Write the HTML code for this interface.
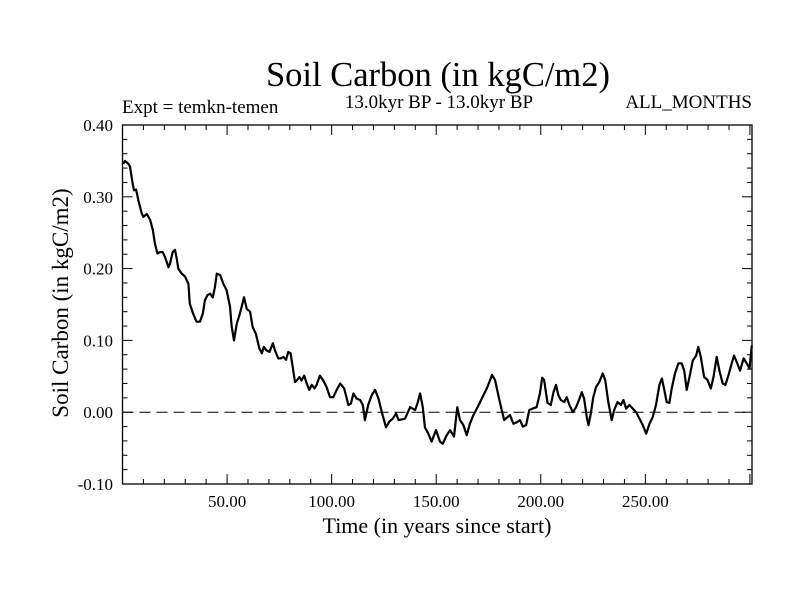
<!DOCTYPE html>
<html><head><meta charset="utf-8"><style>
html,body{margin:0;padding:0;background:#fff;}
svg{display:block;font-family:"Liberation Serif",serif;}
</style></head><body>
<svg id="chart" width="800" height="600" viewBox="0 0 800 600">
<rect width="800" height="600" fill="#fff"/>
<text x="438" y="86" font-size="34.5" text-anchor="middle">Soil Carbon (in kgC/m2)</text>
<text x="439" y="108" font-size="19" text-anchor="middle">13.0kyr BP - 13.0kyr BP</text>
<text x="122" y="113" font-size="19">Expt = temkn-temen</text>
<text x="752" y="108" font-size="19" text-anchor="end">ALL_MONTHS</text>
<text x="437" y="533" font-size="22" text-anchor="middle">Time (in years since start)</text>
<text x="0" y="0" font-size="23" text-anchor="middle" transform="translate(68,303) rotate(-90)">Soil Carbon (in kgC/m2)</text>
<g id="axes"></g>
<g id="plot"></g>
</svg>
<script>
const times = [0.4,1.2,2.8,3.6,4.9,5.5,6.5,7.6,9.2,10.0,11.6,13.2,14.5,15.5,16.7,17.9,19.2,20.3,22.0,22.7,24.0,25.1,25.9,26.7,28.3,29.9,31.5,32.2,33.8,35.4,37.0,38.4,39.4,40.6,41.9,43.2,44.2,45.1,46.7,48.2,49.8,51.4,52.2,53.3,54.6,55.9,57.0,58.1,59.4,61.0,62.2,63.8,65.4,66.6,67.6,68.9,70.3,71.9,72.9,74.5,75.7,77.0,78.2,79.3,80.4,81.4,82.5,83.3,84.6,85.6,86.9,88.1,89.3,90.5,91.8,92.8,94.4,96.0,97.6,99.2,100.8,102.4,104.1,106.0,108.0,109.2,110.4,112.0,113.6,114.9,115.9,117.5,119.2,120.8,122.4,124.0,126.0,127.6,129.2,130.8,132.0,133.5,135.1,137.5,139.9,141.0,142.3,143.6,144.6,146.2,147.8,149.9,151.8,153.1,154.7,156.6,158.5,160.1,161.4,163.0,164.6,166.1,167.8,169.4,171.0,172.6,174.2,175.8,176.7,178.1,179.7,181.3,182.5,184.0,185.3,186.9,188.5,190.1,191.4,193.0,194.5,196.1,198.0,199.6,200.7,201.6,203.2,204.8,206.1,207.3,208.4,209.6,211.2,212.4,213.7,215.3,216.9,218.5,219.6,220.7,222.0,222.8,223.9,225.1,226.4,228.0,229.6,230.8,232.3,233.9,235.1,236.7,238.3,239.5,240.8,242.4,244.0,245.6,247.2,248.8,250.4,252.0,253.5,255.1,256.7,257.9,258.9,260.2,261.5,262.6,264.2,265.8,267.4,268.6,269.8,271.1,272.7,274.3,275.3,276.5,278.1,279.7,281.3,282.6,284.1,285.4,287.0,288.3,289.8,290.8,292.4,293.7,295.3,297.0,298.5,299.8,300.9];
const carbon = [0.346,0.350,0.346,0.342,0.318,0.309,0.310,0.295,0.277,0.272,0.276,0.268,0.254,0.235,0.221,0.223,0.223,0.216,0.202,0.207,0.223,0.226,0.214,0.200,0.193,0.189,0.179,0.151,0.137,0.126,0.126,0.137,0.156,0.163,0.165,0.160,0.174,0.193,0.191,0.179,0.170,0.147,0.119,0.100,0.123,0.135,0.147,0.160,0.144,0.140,0.119,0.109,0.089,0.082,0.091,0.086,0.084,0.096,0.086,0.075,0.075,0.077,0.073,0.084,0.082,0.063,0.042,0.044,0.049,0.044,0.051,0.040,0.031,0.038,0.033,0.038,0.051,0.044,0.035,0.021,0.021,0.031,0.040,0.033,0.010,0.012,0.026,0.019,0.017,0.010,-0.011,0.010,0.024,0.031,0.019,0.000,-0.021,-0.013,-0.009,-0.002,-0.011,-0.010,-0.009,0.007,0.003,0.012,0.026,0.007,-0.021,-0.030,-0.041,-0.025,-0.041,-0.044,-0.034,-0.025,-0.034,0.007,-0.011,-0.018,-0.032,-0.016,-0.004,0.005,0.014,0.024,0.033,0.045,0.052,0.045,0.024,0.003,-0.011,-0.007,-0.004,-0.016,-0.014,-0.011,-0.020,-0.018,0.003,0.005,0.007,0.026,0.048,0.045,0.013,0.010,0.028,0.038,0.024,0.017,0.014,0.021,0.010,0.000,0.007,0.019,0.028,0.019,-0.007,-0.018,-0.002,0.021,0.035,0.042,0.054,0.045,0.014,-0.011,0.003,0.014,0.010,0.017,0.005,0.010,0.005,0.000,-0.009,-0.018,-0.030,-0.016,-0.007,0.010,0.038,0.047,0.033,0.014,0.013,0.033,0.054,0.068,0.068,0.058,0.031,0.049,0.072,0.079,0.091,0.077,0.049,0.045,0.033,0.049,0.077,0.058,0.040,0.038,0.052,0.063,0.079,0.070,0.058,0.075,0.068,0.061,0.093];
const xTickValues = [50,100,150,200,250];
const xTickLabels = ["50.00","100.00","150.00","200.00","250.00"];
const yTickValues = [-0.1,0,0.1,0.2,0.3,0.4];
const yTickLabels = ["-0.10","0.00","0.10","0.20","0.30","0.40"];
const xDomain = [0,301], yDomain = [-0.1,0.4];
const L=122.5,R=752,T=125,B=484;
const sx = v => L + (v-xDomain[0])/(xDomain[1]-xDomain[0])*(R-L);
const sy = v => B - (v-yDomain[0])/(yDomain[1]-yDomain[0])*(B-T);
const NS="http://www.w3.org/2000/svg";
const axes=document.getElementById('axes'), plot=document.getElementById('plot');
function mk(tag,attrs,parent){const e=document.createElementNS(NS,tag);for(const k in attrs)e.setAttribute(k,attrs[k]);parent.appendChild(e);return e;}
const frame=mk('rect',{x:L,y:T,width:R-L,height:B-T,fill:'none',stroke:'#000','stroke-width':1.3},axes);


for(let v=10;v<=300;v+=10){
  const major = v%50===0; const len = major?10:5; const x=sx(v);
  const t1=mk('line',{x1:x,x2:x,y1:B,y2:B-len,stroke:'#000','stroke-width':1},axes);
  
  
  const t2=mk('line',{x1:x,x2:x,y1:T,y2:T+len,stroke:'#000','stroke-width':1},axes);
  
  
}
xTickValues.forEach((v,i)=>{
  const t=mk('text',{x:sx(v),y:507,'font-size':17,'text-anchor':'middle'},axes);
  t.textContent=xTickLabels[i];
  
  
});
for(let k=0;k<=25;k++){
  const v=-0.1+k*0.02; const major=k%5===0; const len=major?10:5; const y=sy(v);
  const t1=mk('line',{x1:L,x2:L+len,y1:y,y2:y,stroke:'#000','stroke-width':1},axes);
  
  
  const t2=mk('line',{x1:R,x2:R-len,y1:y,y2:y,stroke:'#000','stroke-width':1},axes);
  
  
}
yTickValues.forEach((v,i)=>{
  const t=mk('text',{x:113,y:sy(v)+6,'font-size':17,'text-anchor':'end'},axes);
  t.textContent=yTickLabels[i];
  
  
});
const zero=mk('line',{x1:L,x2:R,y1:sy(0),y2:sy(0),stroke:'#000','stroke-width':1,'stroke-dasharray':'11,6'},plot);


const pts=times.map((t,i)=>sx(t).toFixed(1)+','+sy(carbon[i]).toFixed(1)).join(' ');
const line=mk('polyline',{points:pts,fill:'none',stroke:'#000','stroke-width':2.2,'stroke-linejoin':'round'},plot);


</script>
</body></html>
